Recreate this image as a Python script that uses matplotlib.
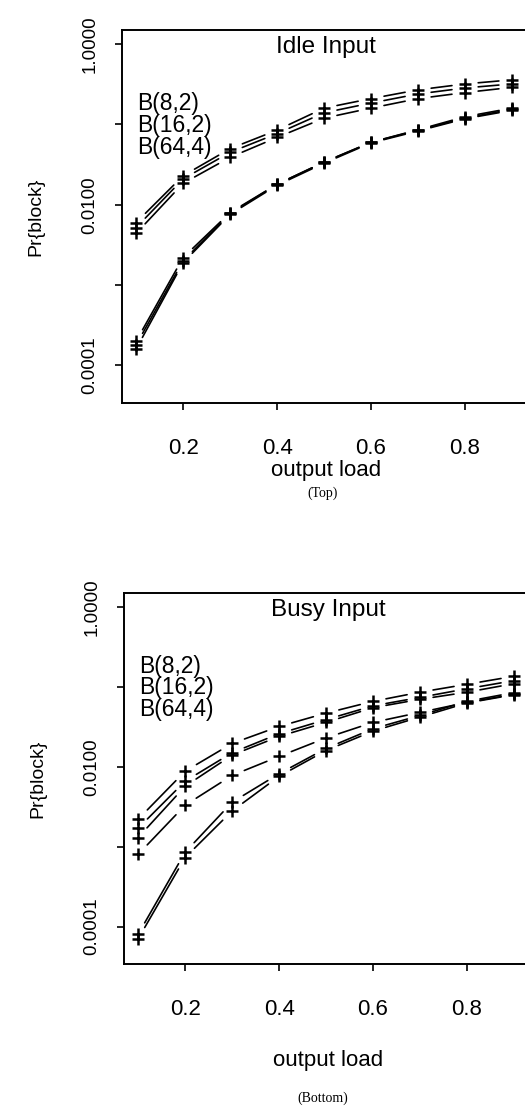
import matplotlib
matplotlib.use("Agg")
import matplotlib.pyplot as plt
from matplotlib.ticker import FixedLocator, NullLocator

plt.rcParams['font.family'] = ['Liberation Sans', 'DejaVu Sans']

loads = [0.1, 0.2, 0.3, 0.4, 0.5, 0.6, 0.7, 0.8, 0.9]
buffer_labels = ['B(8,2)', 'B(16,2)', 'B(64,4)']
y_ticks = [1.0, 0.1, 0.01, 0.001, 0.0001]
y_tick_labels = ['1.0000', '', '0.0100', '', '0.0001']
x_ticks = [0.2, 0.4, 0.6, 0.8]
x_tick_labels = ['0.2', '0.4', '0.6', '0.8']

# idle input
idle_curves = [
    [0.0060, 0.023, 0.050, 0.085, 0.16, 0.21, 0.27, 0.32, 0.36],
    [0.0052, 0.021, 0.045, 0.077, 0.14, 0.185, 0.24, 0.285, 0.32],
    [0.0044, 0.0185, 0.039, 0.069, 0.12, 0.16, 0.21, 0.25, 0.29],
    [0.00020, 0.0022, 0.0080, 0.018, 0.034, 0.060, 0.086, 0.125, 0.16],
    [0.00018, 0.0020, 0.0078, 0.018, 0.034, 0.060, 0.085, 0.12, 0.155],
    [0.00016, 0.0019, 0.0076, 0.0175, 0.033, 0.059, 0.083, 0.118, 0.15],
]

# busy input
busy_curves = [
    [0.0022, 0.0088, 0.0196, 0.032, 0.047, 0.066, 0.086, 0.108, 0.136],
    [0.0017, 0.0066, 0.0150, 0.026, 0.039, 0.058, 0.074, 0.095, 0.12],
    [0.0013, 0.0057, 0.0140, 0.024, 0.036, 0.055, 0.070, 0.086, 0.11],
    [0.0008, 0.0033, 0.0078, 0.0135, 0.023, 0.036, 0.048, 0.064, 0.081],
    [0.00008, 0.00085, 0.0036, 0.0082, 0.017, 0.030, 0.044, 0.066, 0.085],
    [0.00007, 0.00073, 0.0028, 0.0076, 0.016, 0.028, 0.042, 0.063, 0.080],
]


def draw_panel(ax, curves, title, xlabel_y):
    ax.set_yscale('log')
    ax.set_xlim(0.07, 1.0)
    ax.set_ylim(3.4e-5, 1.5)

    for curve in curves:
        # points with gaps around them, like S type="b"
        ax.plot(loads, curve, linestyle='none', marker='+', color='black',
                markersize=8.5, markeredgewidth=1.8)
        for i in range(len(loads) - 1):
            ax.annotate('', xy=(loads[i + 1], curve[i + 1]), xytext=(loads[i], curve[i]),
                        arrowprops=dict(arrowstyle='-', color='black', lw=1.2,
                                        shrinkA=9.5, shrinkB=9.5))

    ax.yaxis.set_major_locator(FixedLocator(y_ticks))
    ax.yaxis.set_minor_locator(NullLocator())
    ax.set_yticklabels(y_tick_labels, rotation=90, va='center', fontsize=13.5)
    ax.set_xticks(x_ticks)
    ax.set_xticklabels(x_tick_labels, fontsize=16)
    ax.tick_params(axis='y', direction='out', length=5, width=1.2, pad=12)
    ax.tick_params(axis='x', direction='out', length=5, width=1.2, pad=20)
    for s in ax.spines.values():
        s.set_linewidth(1.4)

    ax.text(0.467, 0.955, title, transform=ax.transAxes, ha='center', va='center', fontsize=17.5)
    for k, lab in enumerate(buffer_labels):
        ax.text(0.035, 0.803 - 0.059 * k, lab, transform=ax.transAxes,
                ha='left', va='center', fontsize=16.5)

    ax.set_ylabel('Pr{block}', fontsize=14)
    ax.yaxis.set_label_coords(-0.178, 0.5)
    ax.set_xlabel('output load', fontsize=16)
    ax.xaxis.set_label_coords(0.467, xlabel_y)


fig = plt.figure(figsize=(5.25, 11.13), dpi=100)
ax_top = fig.add_axes([0.2324, 0.6379, 0.8324, 0.3351])
ax_bot = fig.add_axes([0.2362, 0.1339, 0.8324, 0.3333])

draw_panel(ax_top, idle_curves, 'Idle Input', -0.153)
draw_panel(ax_bot, busy_curves, 'Busy Input', -0.232)

fig.text(0.614, 1 - 493 / 1113, '(Top)', ha='center', va='center',
         fontsize=10, family='Liberation Serif')
fig.text(0.614, 1 - 1098 / 1113, '(Bottom)', ha='center', va='center',
         fontsize=10, family='Liberation Serif')

plt.savefig('out.png', dpi=100)
